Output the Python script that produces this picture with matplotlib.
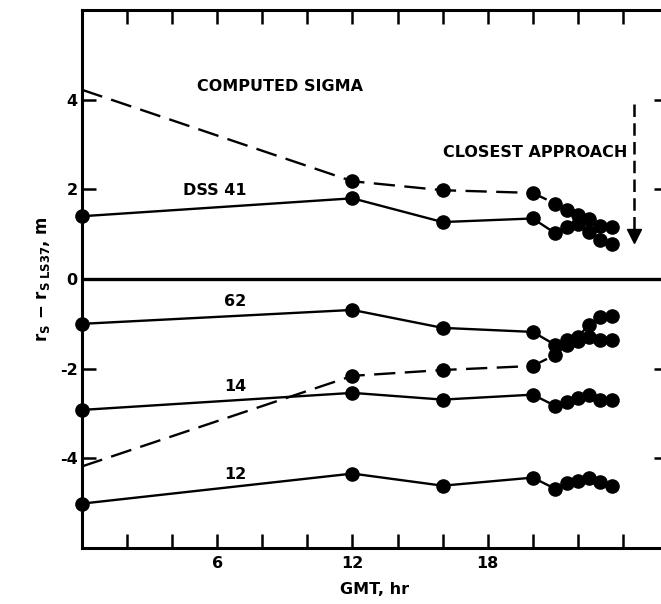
import matplotlib
matplotlib.use("Agg")
import matplotlib.pyplot as plt
from matplotlib.ticker import FixedLocator, FuncFormatter

plt.rcParams['font.family'] = ['DejaVu Sans']
plt.rcParams['mathtext.default'] = 'regular'

# Station differences r_S - r_S LS37 (m) versus GMT (hr)
gmt = [0, 12, 16, 20, 21, 21.5, 22, 22.5, 23, 23.5]

dss41 = [1.40, 1.80, 1.27, 1.35, 1.02, 1.16, 1.23, 1.05, 0.87, 0.78]
dss62 = [-1.00, -0.69, -1.09, -1.18, -1.47, -1.36, -1.29, -1.02, -0.85, -0.82]
dss14 = [-2.92, -2.54, -2.69, -2.58, -2.83, -2.74, -2.65, -2.58, -2.69, -2.69]
dss12 = [-5.01, -4.34, -4.61, -4.43, -4.68, -4.56, -4.50, -4.43, -4.52, -4.61]

# Computed sigma envelope (upper and lower branches)
sigma_upper = [4.22, 2.18, 1.98, 1.92, 1.68, 1.53, 1.42, 1.34, 1.18, 1.17]
sigma_lower = [-4.18, -2.16, -2.03, -1.94, -1.69, -1.47, -1.38, -1.30, -1.36, -1.36]

station_labels = ["DSS 41", "62", "14", "12"]
label_pos = [(5.9, 1.98), (6.8, -0.51), (6.8, -2.40), (6.8, -4.37)]

closest_approach_hr = 24.5
arrow_top, arrow_tip = 3.9, 0.78

xtick_labels = {6: "6", 12: "12", 18: "18"}
yticks = [-4, -2, 0, 2, 4]

W, H = 661, 604
fig = plt.figure(figsize=(W / 100, H / 100), dpi=100)
ax = fig.add_axes([82 / W, 1 - 548 / H, (668 - 82) / W, (548 - 10) / H])

ax.set_xlim(0, 26)
ax.set_ylim(-6, 6)

line_kw = dict(color="black", lw=1.7, marker="o", ms=9.5, mfc="black",
               mec="black", clip_on=False, zorder=3)
for series in (dss41, dss62, dss14, dss12):
    ax.plot(gmt, series, **line_kw)

# Sigma envelope: dashed, dots where observations exist
for branch in (sigma_upper, sigma_lower):
    ax.plot(gmt, branch, color="black", lw=1.7, ls=(0, (9, 4)),
            zorder=2, clip_on=False)
    ax.plot(gmt[1:], branch[1:], ls="none", marker="o", ms=9.5,
            mfc="black", mec="black", zorder=3)

# Zero reference line
ax.axhline(0, color="black", lw=2.4, zorder=1)

text_kw = dict(fontsize=11.5, color="black", fontweight="bold")
for lab, (xl, yl) in zip(station_labels, label_pos):
    ax.text(xl, yl, lab, ha="center", va="center", **text_kw)

ax.text(5.1, 4.30, "COMPUTED SIGMA", ha="left", va="center", **text_kw)
ax.text(24.2, 2.83, "CLOSEST APPROACH", ha="right", va="center", **text_kw)

# Closest-approach marker: dashed vertical arrow
ax.plot([closest_approach_hr, closest_approach_hr], [arrow_top, arrow_tip + 0.3],
        color="black", lw=1.8, ls=(0, (5, 2.5)))
ax.plot([closest_approach_hr], [arrow_tip + 0.18], marker="v", ms=10,
        color="black", ls="none")

# Axes styling
for side in ("left", "top", "right", "bottom"):
    ax.spines[side].set_linewidth(2.2)

ax.xaxis.set_major_locator(FixedLocator(list(range(2, 26, 2))))
ax.xaxis.set_major_formatter(FuncFormatter(lambda v, p: xtick_labels.get(int(round(v)), "")))
ax.yaxis.set_major_locator(FixedLocator(yticks))
ax.yaxis.set_major_formatter(FuncFormatter(lambda v, p: f"{int(round(v))}"))

ax.tick_params(axis="x", direction="in", length=10, width=1.8, top=True,
               bottom=True, labelsize=11.5, pad=6)
ax.tick_params(axis="y", direction="in", length=10, width=1.8, left=True,
               right=True, labelsize=11.5, pad=3)
for lbl in ax.get_xticklabels() + ax.get_yticklabels():
    lbl.set_fontweight("bold")

ax.set_xlabel("GMT, hr", fontsize=11.5, fontweight="bold", labelpad=8)
ax.set_ylabel(r"$\mathbf{r_S}$ $\mathbf{-}$ $\mathbf{r_{S\ LS37}}$, m",
              fontsize=12, fontweight="bold", labelpad=6)

fig.savefig("out.png", dpi=100)
